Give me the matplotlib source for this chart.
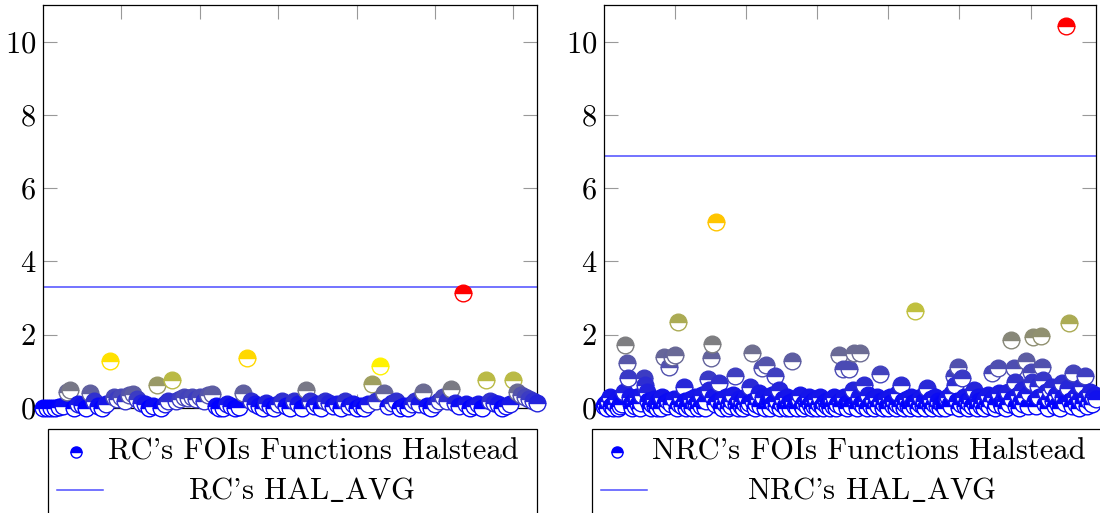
import matplotlib
matplotlib.use("Agg")
import matplotlib.pyplot as plt
import numpy as np
from matplotlib.colors import LinearSegmentedColormap, Normalize
from matplotlib.lines import Line2D
from matplotlib.patches import Rectangle

plt.rcParams['font.family'] = ['cmr10', 'DejaVu Serif']
plt.rcParams['mathtext.fontset'] = 'cm'
plt.rcParams['axes.formatter.use_mathtext'] = True

# --- dati ---
rc_hal = [0.0, 0.0, 0.0, 0.0, 0.02, 0.05, 0.44, 0.49, 0.0, 0.12,
          0.08, 0.0, 0.4, 0.2, 0.05, 0.0, 0.1, 1.29, 0.3, 0.25,
          0.3, 0.2, 0.35, 0.38, 0.25, 0.15, 0.1, 0.0, 0.05, 0.63,
          0.0, 0.1, 0.2, 0.77, 0.2, 0.25, 0.3, 0.28, 0.3, 0.25,
          0.3, 0.2, 0.35, 0.38, 0.05, 0.0, 0.0, 0.1, 0.05, 0.0,
          0.02, 0.4, 1.36, 0.2, 0.1, 0.05, 0.0, 0.15, 0.05, 0.0,
          0.1, 0.2, 0.05, 0.0, 0.2, 0.1, 0.0, 0.49, 0.2, 0.05,
          0.1, 0.0, 0.2, 0.15, 0.05, 0.1, 0.0, 0.2, 0.05, 0.1,
          0.0, 0.05, 0.0, 0.1, 0.66, 0.2, 1.15, 0.42, 0.05, 0.15,
          0.2, 0.0, 0.05, 0.0, 0.1, 0.2, 0.1, 0.45, 0.05, 0.0,
          0.1, 0.2, 0.3, 0.2, 0.51, 0.15, 0.05, 3.13, 0.1, 0.0,
          0.05, 0.1, 0.0, 0.77, 0.2, 0.15, 0.1, 0.0, 0.05, 0.1,
          0.77, 0.45, 0.35, 0.3, 0.25, 0.2, 0.15]
rc_avg = 3.29

nrc_hal = [0.05, 0.1, 0.0, 0.2, 0.3, 0.05, 0.0, 0.15, 0.1, 0.25,
           0.0, 0.05, 0.2, 0.1, 0.45, 1.72, 1.22, 0.81, 0.3, 0.1,
           0.0, 0.2, 0.05, 0.3, 0.1, 0.0, 0.15, 0.35, 0.83, 0.63,
           0.45, 0.2, 0.05, 0.0, 0.1, 0.25, 0.05, 0.0, 0.2, 0.1,
           0.0, 0.3, 1.40, 0.15, 0.05, 0.2, 1.13, 0.1, 1.38, 0.25,
           1.45, 0.0, 2.36, 0.1, 0.3, 0.05, 0.56, 0.2, 0.0, 0.1,
           0.05, 0.25, 0.0, 0.15, 0.3, 0.1, 0.0, 0.2, 0.05, 0.35,
           0.1, 0.0, 0.2, 0.79, 0.49, 1.36, 1.75, 0.3, 0.1, 5.09,
           0.2, 0.67, 0.05, 0.0, 0.25, 0.1, 0.3, 0.0, 0.15, 0.05,
           0.2, 0.35, 0.86, 0.1, 0.0, 0.25, 0.05, 0.2, 0.0, 0.1,
           0.3, 0.05, 0.15, 0.58, 1.51, 0.2, 0.0, 0.1, 0.25, 0.4,
           0.05, 1.08, 0.3, 0.0, 1.17, 0.2, 0.1, 0.0, 0.35, 0.15,
           0.86, 0.05, 0.2, 0.49, 0.0, 0.1, 0.25, 0.05, 0.0, 0.3,
           0.15, 0.0, 1.27, 0.2, 0.05, 0.1, 0.0, 0.25, 0.35, 0.05,
           0.0, 0.15, 0.2, 0.05, 0.3, 0.1, 0.0, 0.2, 0.05, 0.25,
           0.0, 0.1, 0.3, 0.05, 0.0, 0.15, 0.2, 0.05, 0.1, 0.0,
           0.25, 0.05, 0.3, 0.0, 0.1, 1.45, 0.2, 0.05, 1.06, 0.3,
           0.1, 0.0, 1.06, 0.2, 0.05, 0.49, 1.49, 0.15, 0.0, 0.3,
           1.49, 0.1, 0.05, 0.63, 0.2, 0.0, 0.35, 0.1, 0.05, 0.25,
           0.0, 0.15, 0.3, 0.05, 0.93, 0.2, 0.0, 0.1, 0.25, 0.05,
           0.0, 0.3, 0.15, 0.05, 0.2, 0.0, 0.1, 0.4, 0.05, 0.63,
           0.2, 0.0, 0.1, 0.25, 0.05, 0.0, 0.3, 0.15, 0.05, 2.65,
           0.2, 0.0, 0.1, 0.3, 0.05, 0.2, 0.0, 0.54, 0.15, 0.05,
           0.25, 0.0, 0.1, 0.3, 0.05, 0.2, 0.0, 0.15, 0.1, 0.05,
           0.0, 0.25, 0.3, 0.1, 0.05, 0.4, 0.86, 0.63, 0.2, 1.11,
           0.0, 0.1, 0.81, 0.3, 0.05, 0.2, 0.0, 0.15, 0.25, 0.05,
           0.49, 0.1, 0.0, 0.3, 0.2, 0.05, 0.15, 0.0, 0.25, 0.1,
           0.35, 0.05, 0.2, 0.95, 0.3, 0.0, 0.1, 1.08, 0.4, 0.15,
           0.05, 0.3, 0.2, 0.0, 0.45, 0.1, 1.86, 0.25, 1.08, 0.72,
           0.05, 0.35, 0.0, 0.2, 0.5, 0.1, 0.3, 1.27, 0.05, 0.4,
           0.99, 0.72, 1.93, 0.2, 0.05, 0.6, 0.3, 1.97, 1.13, 0.77,
           0.1, 0.45, 0.0, 0.25, 0.5, 0.58, 0.2, 0.05, 0.35, 0.1,
           0.4, 0.0, 0.67, 0.3, 0.15, 10.44, 0.55, 2.33, 0.2, 0.05,
           0.95, 0.3, 0.1, 0.4, 0.0, 0.25, 0.6, 0.15, 0.87, 0.3,
           0.05, 0.2, 0.45, 0.1, 0.3, 0.36, 0.25]
nrc_avg = 6.89

y_ticks = [0, 2, 4, 6, 8, 10]

# colormap "hot" di pgfplots: blu -> giallo -> arancio -> rosso
cmap_hot = LinearSegmentedColormap.from_list(
    "pgf_hot", [(0, 0, 1), (1, 1, 0), (1, 0.5, 0), (1, 0, 0)])

W, H = 1100, 513
FS = 22
fig = plt.figure(figsize=(W / 100, H / 100), dpi=100)


def fig_xy(x, y):
    return x / W, 1 - y / H


def pannello(rect, valori, media, xstep):
    ax = fig.add_axes(rect)
    xs = np.arange(len(valori))
    norm = Normalize(min(valori), max(valori))
    ax.axhline(media, color=(0.3, 0.3, 1.0), lw=1.1, zorder=2)
    for x, v in zip(xs, valori):
        c = cmap_hot(norm(v))
        ax.plot([x], [v], marker='o', ms=12, fillstyle='top',
                markerfacecolor=c, markerfacecoloralt='white',
                markeredgecolor=c, markeredgewidth=1.0,
                linestyle='none', clip_on=False, zorder=3)
    ax.set_xlim(0, len(valori) - 1)
    ax.set_ylim(0, 11)
    ax.set_yticks(y_ticks)
    ax.set_xticks(np.arange(xstep, len(valori), xstep))
    ax.tick_params(direction='in', top=True, right=True, labelbottom=False,
                   length=10, width=0.8, color='0.6', labelsize=FS, pad=5)
    for s in ax.spines.values():
        s.set_linewidth(0.9)
    return ax


ax1 = pannello([43 / W, 1 - 408 / H, 494 / W, 403 / H], rc_hal, rc_avg, 20)
ax2 = pannello([604 / W, 1 - 408 / H, 492 / W, 403 / H], nrc_hal, nrc_avg, 50)


def legenda(x0, x1, mx, tx, lx0, lx1, t2x, label1, label2):
    fig.add_artist(Rectangle(fig_xy(x0, 560), (x1 - x0) / W, (560 - 429) / H,
                             transform=fig.transFigure, fill=False,
                             edgecolor='black', lw=0.9))
    c = (0, 0, 1)
    fig.add_artist(Line2D([fig_xy(mx, 452)[0]], [fig_xy(mx, 452)[1]],
                          transform=fig.transFigure, marker='o', ms=8,
                          fillstyle='top', markerfacecolor=c,
                          markerfacecoloralt='white', markeredgecolor=c,
                          markeredgewidth=1.0, linestyle='none'))
    fig.add_artist(Line2D([lx0 / W, lx1 / W], [fig_xy(0, 490)[1]] * 2,
                          transform=fig.transFigure, color=(0.3, 0.3, 1.0),
                          lw=1.1))
    fig.text(*fig_xy(tx, 452), label1, ha='left', va='center', fontsize=FS)
    fig.text(*fig_xy(t2x, 490), label2, ha='center', va='center', fontsize=FS)


legenda(48, 537, 76, 108, 57, 103, 301,
        "RC's FOIs Functions Halstead", r"RC's HAL$\_$AVG")
legenda(592, 1110, 617, 652, 601, 647, 872,
        "NRC's FOIs Functions Halstead", r"NRC's HAL$\_$AVG")

fig.savefig("out.png", dpi=100)
